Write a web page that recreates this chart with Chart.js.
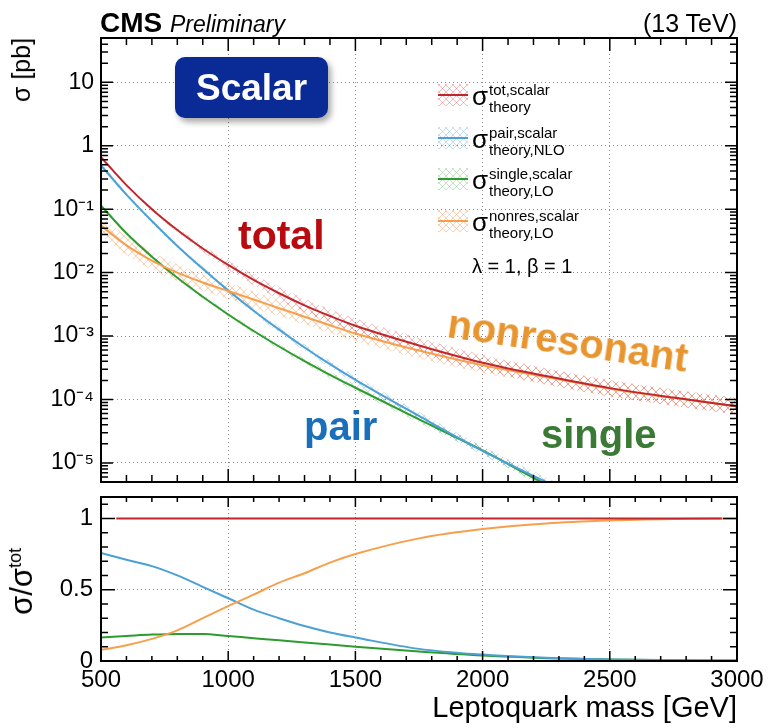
<!DOCTYPE html>
<html>
<head>
<meta charset="utf-8">
<script src="https://cdn.jsdelivr.net/npm/chart.js@4.4.1/dist/chart.umd.min.js"></script>
<style>
  body { margin: 0; background: #fff; }
  #page { position: relative; width: 771px; height: 728px; overflow: hidden;
          font-family: "Liberation Sans", Arial, sans-serif; color: #000; }
  .box { position: absolute; left: 0; width: 771px; }
  .t { position: absolute; white-space: nowrap; line-height: 1; }
  .big { font-weight: bold; font-size: 40px; }
  .sw { position: absolute; left: 438px; width: 30px; height: 22px; }
  .sw i { position: absolute; left: 0; right: 0; top: 10px; height: 2px; }
  .sig { left: 472px; font-size: 26px; }
  .sm { left: 489px; font-size: 15px; }
  .rot { transform-origin: 0 0; transform: rotate(-90deg) translateX(-100%); }
</style>
</head>
<body>
<div id="page">
  <div class="box" style="top:0;height:503px"><canvas id="topChart"></canvas></div>
  <div class="box" style="top:474px;height:254px"><canvas id="ratioChart"></canvas></div>

  <div class="t" style="left:100px;top:9px;font-size:28px;font-weight:bold">CMS <i style="font-weight:normal;font-size:23px">Preliminary</i></div>
  <div class="t" style="right:34px;top:11px;font-size:25px">(13 TeV)</div>

  <div class="t rot" style="left:9px;top:38px;font-size:25px">σ [pb]</div>
  <div class="t rot" style="left:6px;top:548px;font-size:31px">σ/σ<sup style="font-size:18px">tot</sup></div>

  <div class="t" style="left:175px;top:57px;width:153px;height:61px;background:#0a2a96;border-radius:10px;
       box-shadow:3px 4px 6px rgba(0,0,0,0.35);color:#fff;font-weight:bold;font-size:37px;
       text-align:center;line-height:61px">Scalar</div>

  <!-- legend -->
  <div class="sw" id="swTot" style="top:84px"><i style="background:#c0272d"></i></div>
  <div class="t sig" style="top:83px">σ</div>
  <div class="t sm" style="top:82px">tot,scalar</div>
  <div class="t sm" style="top:99px">theory</div>

  <div class="sw" id="swPair" style="top:126.5px"><i style="background:#4ba0d6"></i></div>
  <div class="t sig" style="top:125.5px">σ</div>
  <div class="t sm" style="top:124.5px">pair,scalar</div>
  <div class="t sm" style="top:141.5px">theory,NLO</div>

  <div class="sw" id="swSingle" style="top:167.5px"><i style="background:#2e9b2e"></i></div>
  <div class="t sig" style="top:166.5px">σ</div>
  <div class="t sm" style="top:165.5px">single,scalar</div>
  <div class="t sm" style="top:182.5px">theory,LO</div>

  <div class="sw" id="swNonres" style="top:210px"><i style="background:#f6a04d"></i></div>
  <div class="t sig" style="top:209px">σ</div>
  <div class="t sm" style="top:208px">nonres,scalar</div>
  <div class="t sm" style="top:225px">theory,LO</div>

  <div class="t" style="left:472px;top:256px;font-size:20px">λ = 1, β = 1</div>

  <div class="t big" style="left:238px;top:215px;font-size:41px;color:#b80a0f">total</div>
  <div class="t big" style="left:304px;top:406px;color:#1a6fba">pair</div>
  <div class="t big" style="left:541px;top:414px;color:#3a7a34">single</div>
  <div class="t big" style="left:446px;top:303px;color:#e8952f;transform-origin:0 34px;transform:rotate(8.3deg)">nonresonant</div>
</div>

<script>
// leptoquark mass points (GeV)
const mass = [500, 600, 700, 800, 900, 1000, 1100, 1200, 1300, 1400, 1500, 1750, 2000, 2250, 2500, 2750, 3000];

// cross sections [pb]
const sigmaTot    = [0.66, 0.24, 0.10, 0.047, 0.024, 0.0132, 0.00767, 0.00473, 0.00305, 0.00207, 0.00145, 7.1e-4, 3.8e-4, 2.34e-4, 1.51e-4, 1.07e-4, 7.8e-5];
const sigmaPair   = [0.49, 0.17, 0.065, 0.0263, 0.0115, 0.00525, 0.00251, 0.00126, 6.6e-4, 3.6e-4, 2.04e-4, 5.5e-5, 1.55e-5, 5.0e-6, 1.66e-6, 5.6e-7, 2.0e-7];
const sigmaSingle = [0.114, 0.0417, 0.0178, 0.0083, 0.00417, 0.00219, 0.0012, 6.84e-4, 4.03e-4, 2.45e-4, 1.53e-4, 4.84e-5, 1.57e-5, 4.6e-6, 1.6e-6, 5.5e-7, 1.9e-7];
const sigmaNonres = [0.055, 0.0269, 0.0155, 0.0100, 0.0070, 0.00513, 0.00376, 0.00275, 0.00202, 0.00148, 0.0011, 5.9e-4, 3.47e-4, 2.26e-4, 1.48e-4, 1.06e-4, 7.8e-5];

// relative theory uncertainty (hatched bands)
const uncTot    = [0.05, 0.05, 0.06, 0.08, 0.12, 0.18, 0.22, 0.25, 0.27, 0.28, 0.30, 0.32, 0.33, 0.33, 0.34, 0.34, 0.35];
const uncPair   = [0.08, 0.08, 0.08, 0.08, 0.09, 0.10, 0.11, 0.12, 0.13, 0.14, 0.15, 0.16, 0.17, 0.18, 0.19, 0.20, 0.20];
const uncSingle = [0.06, 0.06, 0.06, 0.07, 0.08, 0.08, 0.09, 0.10, 0.11, 0.12, 0.13, 0.14, 0.15, 0.16, 0.17, 0.18, 0.18];
const uncNonres = [0.40, 0.40, 0.38, 0.36, 0.35, 0.35, 0.34, 0.33, 0.33, 0.32, 0.32, 0.32, 0.32, 0.32, 0.33, 0.33, 0.34];

// fractions sigma / sigma_tot
const ratioPair   = [0.757, 0.71, 0.665, 0.60, 0.52, 0.44, 0.36, 0.30, 0.245, 0.20, 0.165, 0.085, 0.045, 0.022, 0.011, 0.006, 0.003];
const ratioSingle = [0.165, 0.175, 0.185, 0.19, 0.19, 0.175, 0.16, 0.145, 0.13, 0.115, 0.10, 0.066, 0.038, 0.02, 0.01, 0.005, 0.003];
const ratioNonres = [0.078, 0.11, 0.155, 0.215, 0.30, 0.385, 0.465, 0.55, 0.615, 0.69, 0.75, 0.86, 0.925, 0.965, 0.985, 0.995, 1.0];
const ratioTotMass = [560, 2940];
const ratioTot     = [1, 1];

// axis ticks
const xTicks = [500, 1000, 1500, 2000, 2500, 3000];
const yTicksTop = [1e-5, 1e-4, 1e-3, 1e-2, 1e-1, 1, 10];
const yLabelsTop = ['10⁻⁵', '10⁻⁴', '10⁻³', '10⁻²', '10⁻¹', '1', '10'];
const yTicksRatio = [0, 0.5, 1];

const colTot = '#c0272d', colPair = '#4ba0d6', colSingle = '#2e9b2e', colNonres = '#f6a04d';
const hatchTot = 'rgba(230,90,90,0.42)', hatchPair = 'rgba(110,170,225,0.4)',
      hatchSingle = 'rgba(110,190,110,0.4)', hatchNonres = 'rgba(250,160,100,0.5)';

function hatch(color) {
  const c = document.createElement('canvas');
  c.width = 8; c.height = 8;
  const g = c.getContext('2d');
  g.strokeStyle = color;
  g.lineWidth = 1;
  g.beginPath();
  g.moveTo(0, 0); g.lineTo(8, 8);
  g.moveTo(8, 0); g.lineTo(0, 8);
  g.stroke();
  return g.createPattern(c, 'repeat');
}

// legend swatches use the same crosshatch
[['swTot', hatchTot], ['swPair', hatchPair], ['swSingle', hatchSingle], ['swNonres', hatchNonres]].forEach(function (s) {
  const el = document.getElementById(s[0]);
  el.style.background = 'repeating-linear-gradient(45deg,' + s[1] + ' 0 1px,transparent 1px 5px),' +
                        'repeating-linear-gradient(-45deg,' + s[1] + ' 0 1px,transparent 1px 5px)';
});

const pts = (xs, ys) => xs.map((x, i) => ({ x: x, y: ys[i] }));

function line(label, xs, ys, color) {
  return { label: label, data: pts(xs, ys), borderColor: color, borderWidth: 2, pointRadius: 0,
           fill: false, cubicInterpolationMode: 'monotone' };
}

function band(label, ys, unc, color) {
  const up = ys.map((v, i) => v * (1 + unc[i]));
  const lo = ys.map((v, i) => v / (1 + unc[i]));
  return [
    { label: label + ' up', data: pts(mass, up), borderColor: 'rgba(0,0,0,0)', borderWidth: 0,
      pointRadius: 0, fill: false, cubicInterpolationMode: 'monotone' },
    { label: label + ' down', data: pts(mass, lo), borderColor: 'rgba(0,0,0,0)', borderWidth: 0,
      pointRadius: 0, fill: '-1', backgroundColor: hatch(color), cubicInterpolationMode: 'monotone' }
  ];
}

// frame with ROOT-style inner ticks on all four sides
const frame = {
  id: 'frame',
  afterDatasetsDraw(chart, args, o) {
    const ctx = chart.ctx, a = chart.chartArea;
    const x = chart.scales.x, y = chart.scales.y;
    ctx.save();
    ctx.strokeStyle = '#000';
    ctx.lineWidth = 1.5;
    ctx.beginPath();
    o.xMarks.forEach(function (m) {
      const p = x.getPixelForValue(m.v);
      ctx.moveTo(p, a.bottom); ctx.lineTo(p, a.bottom - m.len);
      ctx.moveTo(p, a.top); ctx.lineTo(p, a.top + m.len);
    });
    o.yMarks.forEach(function (m) {
      const p = y.getPixelForValue(m.v);
      if (p < a.top - 0.5 || p > a.bottom + 0.5) return;
      ctx.moveTo(a.left, p); ctx.lineTo(a.left + m.len, p);
      ctx.moveTo(a.right, p); ctx.lineTo(a.right - m.len, p);
    });
    ctx.stroke();
    ctx.lineWidth = 2;
    ctx.strokeRect(a.left, a.top, a.right - a.left, a.bottom - a.top);
    ctx.restore();
  }
};

function xMarks(major, minor) {
  const out = [];
  for (let m = 500; m <= 3000; m += 100) out.push({ v: m, len: m % 500 === 0 ? major : minor });
  return out;
}
const logMarks = [];
for (let k = -6; k <= 1; k++) {
  for (let d = 1; d <= 9; d++) {
    const v = d * Math.pow(10, k);
    if (v >= 5e-6 && v <= 50) logMarks.push({ v: v, len: d === 1 ? 12 : 7 });
  }
}
const ratioMarks = [];
for (let i = 0; i <= 11; i++) ratioMarks.push({ v: i / 10, len: i % 5 === 0 ? 14 : 7 });

const gridCol = '#8a8a8a';
const tickFont = size => ({ family: '"Liberation Sans", Arial, sans-serif', size: size });

new Chart(document.getElementById('topChart'), {
  type: 'line',
  data: {
    datasets: [
      line('tot', mass, sigmaTot, colTot),
      line('nonres', mass, sigmaNonres, colNonres),
      line('pair', mass, sigmaPair, colPair),
      line('single', mass, sigmaSingle, colSingle)
    ].concat(band('tot', sigmaTot, uncTot, hatchTot),
             band('nonres', sigmaNonres, uncNonres, hatchNonres),
             band('pair', sigmaPair, uncPair, hatchPair),
             band('single', sigmaSingle, uncSingle, hatchSingle))
  },
  options: {
    responsive: true,
    maintainAspectRatio: false,
    animation: false,
    devicePixelRatio: 1,
    layout: { padding: { top: 38, right: 34, bottom: 21, left: 0 } },
    plugins: {
      legend: { display: false },
      tooltip: { enabled: false },
      frame: { xMarks: xMarks(13, 7), yMarks: logMarks }
    },
    scales: {
      x: {
        type: 'linear', min: 500, max: 3000,
        afterBuildTicks: s => { s.ticks = xTicks.map(v => ({ value: v })); },
        afterFit: s => { s.height = 0; },
        ticks: { display: false },
        grid: { color: gridCol, lineWidth: 1, drawTicks: false },
        border: { display: false, dash: [1, 3] }
      },
      y: {
        type: 'logarithmic', min: 5e-6, max: 50,
        afterBuildTicks: s => { s.ticks = yTicksTop.map(v => ({ value: v })); },
        afterFit: s => { s.width = 101; },
        ticks: {
          callback: v => yLabelsTop[yTicksTop.indexOf(v)],
          font: tickFont(23), color: '#000', padding: 7, autoSkip: false
        },
        grid: { color: gridCol, lineWidth: 1, drawTicks: false },
        border: { display: false, dash: [1, 3] }
      }
    }
  },
  plugins: [frame]
});

new Chart(document.getElementById('ratioChart'), {
  type: 'line',
  data: {
    datasets: [
      line('tot', ratioTotMass, ratioTot, colTot),
      line('nonres', mass, ratioNonres, colNonres),
      line('pair', mass, ratioPair, colPair),
      line('single', mass, ratioSingle, colSingle)
    ]
  },
  options: {
    responsive: true,
    maintainAspectRatio: false,
    animation: false,
    devicePixelRatio: 1,
    layout: { padding: { top: 23, right: 34, bottom: 0, left: 0 } },
    plugins: {
      legend: { display: false },
      tooltip: { enabled: false },
      frame: { xMarks: xMarks(10, 5), yMarks: ratioMarks }
    },
    scales: {
      x: {
        type: 'linear', min: 500, max: 3000,
        afterBuildTicks: s => { s.ticks = xTicks.map(v => ({ value: v })); },
        afterFit: s => { s.height = 67; },
        ticks: {
          callback: v => String(v),
          font: tickFont(24), color: '#000', padding: 5, maxRotation: 0, autoSkip: false
        },
        title: {
          display: true, text: 'Leptoquark mass [GeV]', align: 'end', color: '#000',
          font: tickFont(29), padding: { top: 0, bottom: 2 }
        },
        grid: { color: gridCol, lineWidth: 1, drawTicks: false },
        border: { display: false, dash: [1, 3] }
      },
      y: {
        type: 'linear', min: 0, max: 1.15,
        afterBuildTicks: s => { s.ticks = yTicksRatio.map(v => ({ value: v })); },
        afterFit: s => { s.width = 101; },
        ticks: {
          callback: v => String(v),
          font: tickFont(24), color: '#000', padding: 8, autoSkip: false
        },
        grid: { color: gridCol, lineWidth: 1, drawTicks: false },
        border: { display: false, dash: [1, 3] }
      }
    }
  },
  plugins: [frame]
});
</script>
</body>
</html>
